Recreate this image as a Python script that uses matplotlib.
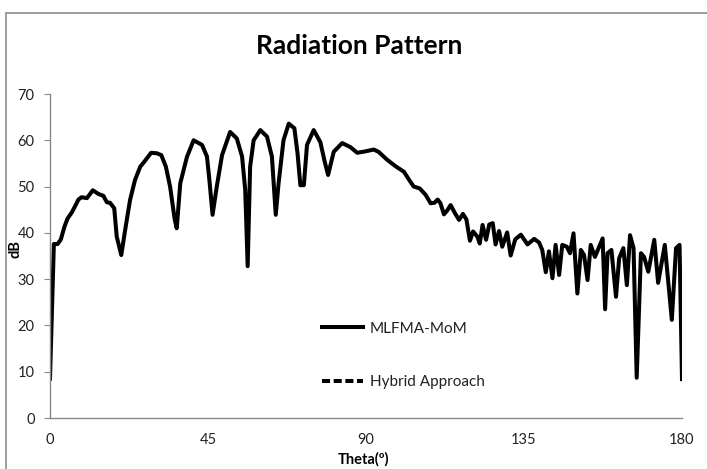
import matplotlib
matplotlib.use('Agg')
import matplotlib.pyplot as plt
from matplotlib.lines import Line2D
from matplotlib.patches import Rectangle

plt.rcParams['font.family'] = ['Lato', 'DejaVu Sans']

# values (theta in degrees, level in dB)
theta = [0, 1.1, 2.2, 3.1, 4.1, 5.0, 6.2, 7.1, 8.1, 9.0, 10.5, 12.2, 13.8, 15.2, 16.2,
         17.1, 18.3, 19.0, 20.3, 21.4, 22.8, 24.2, 25.7, 27.1, 28.8, 30.4, 31.7, 33.0,
         34.2, 35.5, 36.1, 37.1, 39.0, 40.9, 43.3, 44.7, 45.4, 46.3, 47.5, 49.0, 51.3,
         53.2, 54.7, 55.6, 56.3, 57.0, 58.0, 59.9, 61.8, 63.2, 64.3, 65.1, 66.5, 68.0,
         69.6, 70.5, 71.3, 72.3, 73.2, 75.1, 77.0, 78.2, 79.2, 80.8, 83.2, 85.6, 87.5,
         89.8, 92.2, 93.6, 96.0, 98.4, 100.8, 102.5, 103.6, 105.3, 107.0, 108.4, 109.5,
         110.4, 111.2, 112.2, 113.1, 114.1, 115.3, 116.5, 117.6, 118.6, 119.6, 120.5,
         121.7, 122.4, 123.2, 124.2, 125.1, 126.1, 126.9, 127.9, 128.8, 130.2, 131.2,
         132.5, 134.1, 136.0, 137.9, 139.3, 140.2, 141.2, 142.1, 143.1, 144.0, 145.0,
         145.9, 147.2, 148.1, 149.1, 150.2, 151.2, 152.1, 153.1, 154.0, 155.2, 156.4,
         157.4, 158.1, 158.8, 159.9, 161.2, 162.1, 163.3, 164.3, 165.2, 166.2, 167.1,
         168.3, 169.2, 170.4, 172.1, 173.2, 175.1, 177.1, 178.3, 179.3, 180]
mlfma_db = [8.5, 37.6, 37.6, 38.6, 41.3, 43.1, 44.4, 45.7, 47.2, 47.7, 47.5, 49.2, 48.4,
            48.0, 46.6, 46.5, 45.3, 39.2, 35.2, 40.6, 47.1, 51.4, 54.3, 55.6, 57.3, 57.2,
            56.8, 54.3, 50.0, 43.0, 41.0, 50.7, 56.4, 60.0, 59.0, 56.5, 51.4, 43.9, 50.0,
            56.8, 61.8, 60.4, 56.5, 49.3, 32.8, 54.3, 60.0, 62.2, 60.8, 56.5, 43.9, 50.7,
            60.0, 63.6, 62.6, 57.2, 50.3, 50.3, 59.0, 62.2, 59.6, 55.5, 52.5, 57.5, 59.4,
            58.5, 57.3, 57.6, 58.0, 57.5, 55.8, 54.4, 53.2, 51.2, 50.0, 49.6, 48.2, 46.4,
            46.5, 47.2, 46.4, 44.0, 44.8, 46.0, 44.3, 42.8, 44.1, 42.9, 38.3, 40.3, 39.2,
            37.7, 41.7, 38.5, 41.8, 42.1, 37.5, 40.4, 37.0, 40.1, 35.1, 38.6, 39.6, 37.5,
            38.7, 37.9, 36.3, 31.5, 36.0, 30.2, 37.4, 30.9, 37.4, 37.0, 35.6, 39.9, 26.9,
            36.3, 35.2, 29.8, 37.4, 34.8, 37.0, 38.8, 23.5, 35.6, 36.3, 26.2, 34.5, 36.7,
            28.7, 39.5, 36.7, 8.7, 35.6, 34.8, 31.6, 38.5, 29.2, 37.4, 21.2, 36.7, 37.4, 8.4]

x_ticks = [0, 45, 90, 135, 180]
y_ticks = [0, 10, 20, 30, 40, 50, 60, 70]

fig = plt.figure(figsize=(7.07, 4.69), dpi=100)
ax = fig.add_axes([50 / 707, 51 / 469, 632 / 707, 324 / 469])

ax.plot(theta, mlfma_db, color='black', lw=2.9, solid_joinstyle='round')

ax.set_xlim(0, 180)
ax.set_ylim(0, 70)
ax.set_xticks(x_ticks)
ax.set_yticks(y_ticks)

gray = '#888888'
for side in ['top', 'right']:
    ax.spines[side].set_visible(False)
for side in ['left', 'bottom']:
    ax.spines[side].set_color(gray)
    ax.spines[side].set_linewidth(1.0)
ax.tick_params(axis='y', direction='out', length=4, color=gray, pad=7, labelsize=10.5,
               labelcolor='#222222')
ax.tick_params(axis='x', length=0, pad=11, labelsize=10.5, labelcolor='#222222')

handles = [Line2D([], [], color='black', lw=2.9),
           Line2D([], [], color='black', lw=2.9, dashes=(2.0, 0.9))]
ax.legend(handles, ['MLFMA-MoM', 'Hybrid Approach'], loc='upper left',
          bbox_to_anchor=(0.43, 0.297), frameon=False, fontsize=11,
          handlelength=2.7, handletextpad=0.45, labelspacing=2.6,
          borderpad=0, borderaxespad=0, labelcolor='#222222')

fig.text(359 / 707, 1 - 46 / 469, 'Radiation Pattern', ha='center', va='center',
         fontsize=19, fontweight='bold')
fig.text(15 / 707, 1 - 249 / 469, 'dB', ha='center', va='center', rotation=90,
         fontsize=10.5, fontweight='bold')
fig.text(364 / 707, 1 - 459 / 469, 'Theta(º)', ha='center', va='center',
         fontsize=10.5, fontweight='bold')

# chart area border (only the left and top edges are inside the picture)
fig.patches.append(Rectangle((6 / 707, -0.1), 1.2, 1.1 - 13 / 469,
                             transform=fig.transFigure, fill=False,
                             edgecolor='#8c8c8c', lw=1.2))

fig.savefig('out.png', dpi=100)
